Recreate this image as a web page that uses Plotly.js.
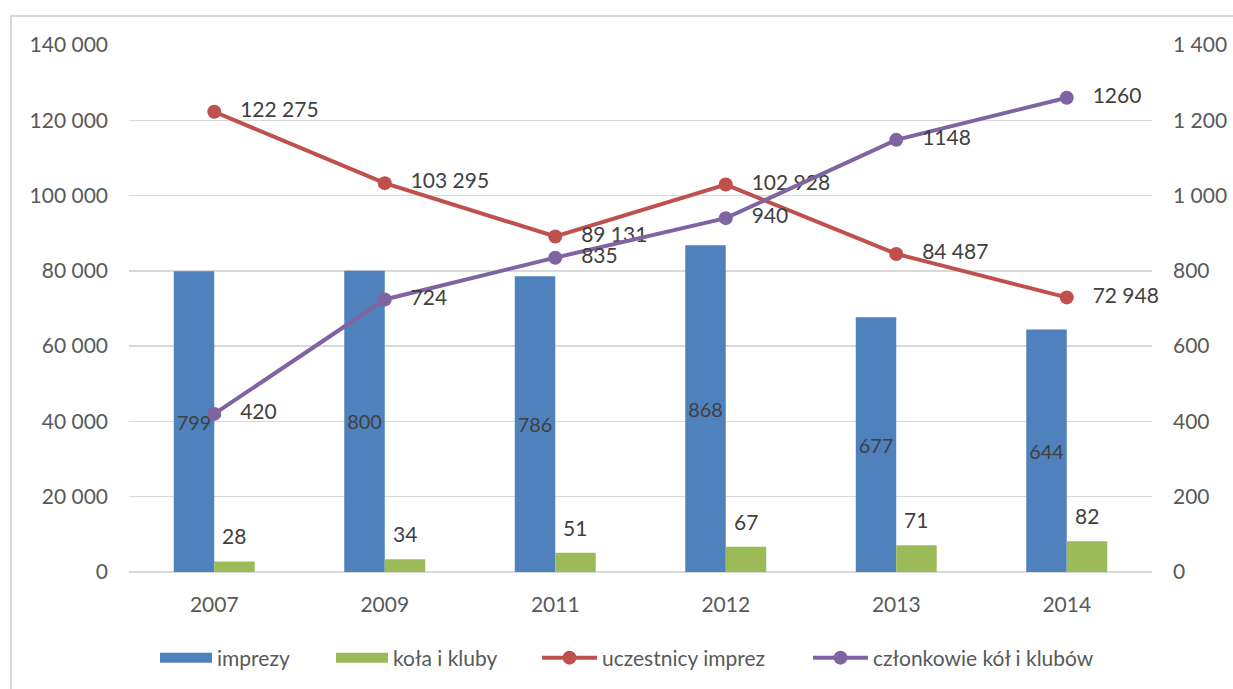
<!DOCTYPE html>
<html>
<head>
<meta charset="utf-8">
<script src="https://cdn.plot.ly/plotly-3.0.1.min.js"></script>
<style>html,body{margin:0;padding:0;background:#fff;}#chart{width:1233px;height:689px;}</style>
</head>
<body>
<div id="chart"></div>
<script>
var years = ['2007', '2009', '2011', '2012', '2013', '2014'];
var imprezy = [799, 800, 786, 868, 677, 644];
var kolaKluby = [28, 34, 51, 67, 71, 82];
var uczestnicy = [122275, 103295, 89131, 102928, 84487, 72948];
var czlonkowie = [420, 724, 835, 940, 1148, 1260];

function sep(v) { return String(v).replace(/\B(?=(\d{3})+(?!\d))/g, ' '); }
var PAD = '\u00a0\u00a0\u00a0';

var FONT = 'Lato, "Open Sans", sans-serif';
var LBL = '#404040';
var TICK = '#595959';
var FS = 21;
var BLUE = '#4F81BD', GREEN = '#9BBB59', RED = '#C0504D', PURPLE = '#8064A2';

var traces = [
  {
    type: 'bar', name: 'imprezy', x: years, y: imprezy, yaxis: 'y',
    marker: {color: BLUE},
    text: imprezy.map(String), textposition: 'inside', insidetextanchor: 'middle',
    insidetextfont: {family: FONT, size: FS, color: LBL},
    textangle: 0, showlegend: false
  },
  {
    type: 'bar', name: 'koła i kluby', x: years, y: kolaKluby, yaxis: 'y',
    marker: {color: GREEN}, showlegend: false
  },
  {
    type: 'scatter', mode: 'lines+markers+text', name: 'uczestnicy imprez',
    x: years, y: uczestnicy, yaxis: 'y2', legend: 'legend3',
    line: {color: RED, width: 4},
    marker: {color: RED, size: 14},
    text: uczestnicy.map(function (v) { return PAD + sep(v); }), textposition: 'middle right',
    textfont: {family: FONT, size: FS, color: LBL}, cliponaxis: false
  },
  {
    type: 'scatter', mode: 'lines+markers+text', name: 'członkowie kół i klubów',
    x: years, y: czlonkowie, yaxis: 'y3', legend: 'legend4',
    line: {color: PURPLE, width: 4},
    marker: {color: PURPLE, size: 14},
    text: czlonkowie.map(function (v) { return PAD + String(v); }), textposition: 'middle right',
    textfont: {family: FONT, size: FS, color: LBL}, cliponaxis: false
  },
  // legend-only entries drawn as thick wide swatches like the reference
  {
    type: 'scatter', mode: 'lines', name: 'imprezy', x: [years[0]], y: [null], yaxis: 'y',
    line: {color: BLUE, width: 14}, legend: 'legend', hoverinfo: 'skip'
  },
  {
    type: 'scatter', mode: 'lines', name: 'koła i kluby', x: [years[0]], y: [null], yaxis: 'y',
    line: {color: GREEN, width: 14}, legend: 'legend2', hoverinfo: 'skip'
  }
];

var L = 129, R = 1152, T = 45, B = 573;
function px2x(p) { return (p - L) / (R - L); }
function py2y(p) { return (B - p) / (B - T); }

var legFont = {family: FONT, size: FS, color: TICK};
function leg(px) {
  return {orientation: 'h', x: px2x(px), xanchor: 'left', y: py2y(658), yanchor: 'middle',
          font: legFont, itemwidth: 52, bgcolor: 'rgba(0,0,0,0)', borderwidth: 0};
}
var lg1 = leg(161 - 6), lg2 = leg(337 - 6), lg3 = leg(543 - 6), lg4 = leg(814 - 6);
lg3.itemwidth = 55; lg4.itemwidth = 55;

var annotations = kolaKluby.map(function (v, i) {
  return {x: i, y: v, xref: 'x', yref: 'y', text: String(v), showarrow: false,
          xshift: 20, yanchor: 'bottom', yshift: 11,
          font: {family: FONT, size: FS, color: LBL}};
});

var layout = {
  width: 1233, height: 689,
  margin: {l: L, r: 1233 - R, t: T, b: 689 - B, pad: 0},
  paper_bgcolor: '#ffffff', plot_bgcolor: '#ffffff',
  font: {family: FONT, size: FS, color: TICK},
  separators: ', ',
  barmode: 'group', bargap: 0.525, bargroupgap: 0,
  showlegend: true,
  legend: lg1, legend2: lg2, legend3: lg3, legend4: lg4,
  xaxis: {
    type: 'category', categoryorder: 'array', categoryarray: years,
    range: [-0.5, years.length - 0.5], autorange: false,
    showgrid: false, zeroline: false, showline: false,
    ticks: '', ticklabelstandoff: 18,
    tickfont: {family: FONT, size: FS, color: TICK}
  },
  yaxis: {
    side: 'right', range: [0, 1400], dtick: 200, tick0: 0, tickformat: ',d',
    showgrid: true, gridcolor: '#d9d9d9', gridwidth: 1.5,
    zeroline: true, zerolinecolor: '#d9d9d9', zerolinewidth: 1.5,
    showline: false, ticks: '', ticklabelstandoff: 20,
    tickfont: {family: FONT, size: FS, color: TICK}
  },
  yaxis2: {
    overlaying: 'y', side: 'left', range: [0, 140000], dtick: 20000, tick0: 0, tickformat: ',d',
    showgrid: false, zeroline: false, showline: false, ticks: '', ticklabelstandoff: 20,
    tickfont: {family: FONT, size: FS, color: TICK}
  },
  yaxis3: {
    overlaying: 'y', side: 'right', range: [0, 1400], visible: false,
    showgrid: false, zeroline: false
  },
  annotations: annotations,
  shapes: [
    {type: 'rect', xref: 'paper', yref: 'paper',
     x0: px2x(11), x1: px2x(1250), y0: py2y(700), y1: py2y(16),
     line: {color: '#d9d9d9', width: 2}, fillcolor: 'rgba(0,0,0,0)', layer: 'below'}
  ]
};

Plotly.newPlot('chart', traces, layout, {displayModeBar: false, staticPlot: true});
</script>
</body>
</html>
